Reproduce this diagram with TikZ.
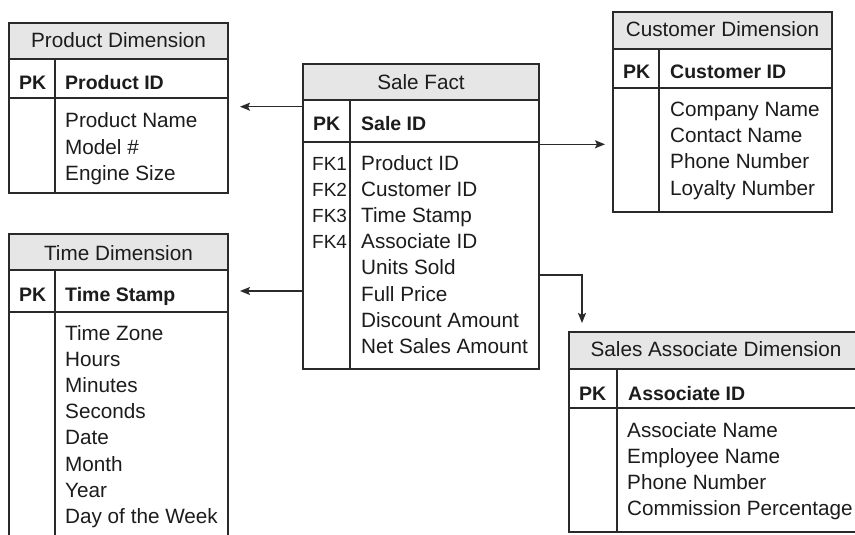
\documentclass[tikz,border=0pt]{standalone}
\usepackage{fontspec}
\setmainfont{Liberation Sans}
\usetikzlibrary{arrows.meta}
\definecolor{linec}{HTML}{2A2A2A}
\definecolor{hdrc}{HTML}{E6E6E6}
\definecolor{txtc}{HTML}{1C1C1C}
\newcommand\fldfont{\fontsize{20.7}{26}\selectfont}
\newcommand\fkfont{\fontsize{19}{26}\selectfont}
\newcommand\keyfont{\fontsize{19.5}{26}\selectfont\bfseries}
% #1 name, #2 left, #3 top, #4 right, #5 bottom, #6 header rule, #7 key rule, #8 column rule
\newcommand\ertable[8]{%
  \fill[hdrc] (#2,#3) rectangle (#4,#6);
  \node[tbl, minimum width={(#4-#2)*1pt}, minimum height={(#5-#3)*1pt}] (#1) at (#2,#3) {};
  \draw[rule] (#2,#6) -- (#4,#6);
  \draw[rule] (#2,#7) -- (#4,#7);
  \draw[rule] (#8,#6) -- (#8,#5);
}
\begin{document}
\begin{tikzpicture}[x=1pt,y=-1pt,
  tbl/.style={draw=linec, line width=1.6pt, inner sep=0pt, outer sep=0pt, anchor=north west, rectangle},
  rule/.style={draw=linec, line width=1.6pt},
  ttl/.style={anchor=base, font=\fldfont, text=txtc, inner sep=0pt},
  keyf/.style={anchor=base west, font=\keyfont, text=txtc, inner sep=0pt},
  fld/.style={anchor=base west, font=\fldfont, text=txtc, inner sep=0pt},
  fkf/.style={anchor=base west, font=\fkfont, text=txtc, inner sep=0pt},
  conn/.style={draw=linec, line width=1.5pt, -{Stealth[length=10pt,width=8pt,inset=2pt]}}]
\clip (0,0) rectangle (855,535);
\fill[white] (0,0) rectangle (855,535);

% Product Dimension
\ertable{prod}{9}{23}{228}{193}{59}{98}{55}
\node[ttl] (prod-title) at (118.5,47.3) {Product Dimension};
\node[keyf] (prod-pk) at (19,89) {PK};
\node[keyf] (prod-id) at (65,89) {Product ID};
\foreach \t [count=\i from 0] in {Product Name, Model \#, Engine Size}
  \node[fld] (prod-f\i) at (65,{128+26.3*\i}) {\t};

% Sale Fact
\ertable{fact}{303}{64}{539}{369}{100}{142}{350}
\node[ttl] (fact-title) at (421,90) {Sale Fact};
\node[keyf] (fact-pk) at (313,130) {PK};
\node[keyf] (fact-id) at (361,130) {Sale ID};
\foreach \k [count=\i from 0] in {FK1, FK2, FK3, FK4}
  \node[fkf] (fact-k\i) at (312,{170+26.2*\i}) {\k};
\foreach \t [count=\i from 0] in {Product ID, Customer ID, Time Stamp, Associate ID, Units Sold, Full Price, Discount Amount, Net Sales Amount}
  \node[fld] (fact-f\i) at (361,{170+26.2*\i}) {\t};

% Customer Dimension
\ertable{cust}{613}{12}{832}{212}{49}{88}{659}
\node[ttl] (cust-title) at (722.5,36.7) {Customer Dimension};
\node[keyf] (cust-pk) at (623,79) {PK};
\node[keyf] (cust-id) at (670,79) {Customer ID};
\foreach \t [count=\i from 0] in {Company Name, Contact Name, Phone Number, Loyalty Number}
  \node[fld] (cust-f\i) at (670,{116.7+26.1*\i}) {\t};

% Time Dimension
\ertable{time}{9}{234}{228}{548}{270}{312}{55}
\node[ttl] (time-title) at (118.5,260) {Time Dimension};
\node[keyf] (time-pk) at (19,301) {PK};
\node[keyf] (time-id) at (65,301) {Time Stamp};
\foreach \t [count=\i from 0] in {Time Zone, Hours, Minutes, Seconds, Date, Month, Year, Day of the Week}
  \node[fld] (time-f\i) at (65,{340+26.2*\i}) {\t};

% Sales Associate Dimension
\ertable{assoc}{569}{332}{863}{532}{369}{408}{617}
\node[ttl] (assoc-title) at (716,356) {Sales Associate Dimension};
\node[keyf] (assoc-pk) at (579,400) {PK};
\node[keyf] (assoc-id) at (628,400) {Associate ID};
\foreach \t [count=\i from 0] in {Associate Name, Employee Name, Phone Number, Commission Percentage}
  \node[fld] (assoc-f\i) at (627,{437.3+25.9*\i}) {\t};

% Relationships from the fact table to the dimensions
\coordinate (prodtip) at (240,106.7);
\coordinate (timetip) at (240,291);
\coordinate (custtip) at (605,144.3);
\coordinate (assocbend) at (582,275);
\coordinate (assoctip) at (582,323);
\draw[conn] (fact.west |- prodtip) -- (prodtip);
\draw[conn] (fact.west |- timetip) -- (timetip);
\draw[conn] (fact.east |- custtip) -- (custtip);
\draw[conn] (fact.east |- assocbend) -- (assocbend) -- (assoctip);
\end{tikzpicture}
\end{document}
